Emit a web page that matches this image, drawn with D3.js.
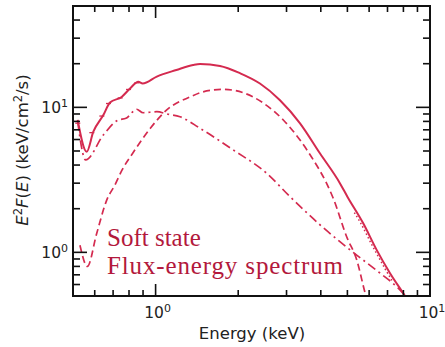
<!DOCTYPE html>
<html>
<head>
<meta charset="utf-8">
<script src="https://cdn.jsdelivr.net/npm/d3@7"></script>
<style>
  body { margin: 0; background: #fff; }
  svg { display: block; }
</style>
</head>
<body>
<div id="chart"></div>
<script>
// total model (solid)
const totalE = [0.52, 0.561, 0.593, 0.645, 0.682, 0.752, 0.807, 0.865, 0.897, 1.01, 1.19, 1.37, 1.452, 1.717, 2.03, 2.40, 2.84, 3.36, 3.97, 4.70, 5.0, 5.71, 6.39, 7.15, 7.99, 8.6];
const totalF = [8.2, 4.94, 6.79, 8.85, 10.8, 11.8, 13.5, 15.0, 14.6, 16.3, 18.1, 19.6, 19.9, 19.3, 17.2, 14.6, 11.2, 7.76, 4.82, 2.99, 2.42, 1.585, 1.04, 0.718, 0.522, 0.42];

// disk component (dashed)
const diskE = [0.53, 0.564, 0.61, 0.664, 0.711, 0.755, 0.832, 0.957, 1.098, 1.335, 1.49, 1.765, 2.09, 2.47, 2.92, 3.36, 3.76, 4.20, 4.44, 4.97, 5.41, 5.80, 6.0];
const diskF = [1.12, 0.80, 1.35, 2.3, 2.92, 3.7, 4.94, 7.18, 9.6, 11.8, 12.8, 13.3, 12.6, 10.7, 8.18, 5.95, 4.33, 2.99, 2.36, 1.28, 0.885, 0.525, 0.42];

// power-law component (dash-dot)
const plE = [0.52, 0.556, 0.645, 0.731, 0.78, 0.853, 0.90, 1.01, 1.10, 1.227, 1.452, 1.92, 2.54, 3.09, 3.97, 5.25, 6.57, 7.56, 8.3];
const plF = [8.0, 4.34, 6.45, 8.18, 8.4, 9.7, 9.18, 9.33, 9.0, 8.62, 7.17, 5.08, 3.51, 2.42, 1.55, 1.0, 0.72, 0.58, 0.48];

// data (dotted at high energy, small caps at low energy)
const dotE = [5.3, 5.56, 6.15, 6.86, 7.3];
const dotF = [1.88, 1.62, 1.12, 0.77, 0.63];
const capE = [0.527, 0.593, 0.645, 0.682, 0.752, 0.807, 0.865];
const capF = [7.9, 6.8, 8.85, 10.8, 11.8, 13.5, 15.0];

const xTicks = [1, 10];
const yTicks = [1, 10];

const W = 445, H = 347;
const mL = 73, mR = 430, mT = 6, mB = 296;
const lineCol = "#d42a4f";
const textCol = "#b3193c";

const svg = d3.select("#chart").append("svg").attr("width", W).attr("height", H);

const x = d3.scaleLog().domain([0.5, 10]).range([mL, mR]);
const y = d3.scaleLog().domain([0.5, 50]).range([mB, mT]);

svg.append("clipPath").attr("id", "clip").append("rect")
  .attr("x", mL).attr("y", mT).attr("width", mR - mL).attr("height", mB - mT);

const line = d3.line().x(d => x(d[0])).y(d => y(d[1])).curve(d3.curveMonotoneX);
const zip = (a, b) => a.map((v, i) => [v, b[i]]);

const g = svg.append("g").attr("clip-path", "url(#clip)");

g.append("path").attr("d", line(zip(totalE, totalF)))
  .attr("fill", "none").attr("stroke", lineCol).attr("stroke-width", 2);
g.append("path").attr("d", line(zip(diskE, diskF)))
  .attr("fill", "none").attr("stroke", lineCol).attr("stroke-width", 1.7).attr("stroke-dasharray", "7,4");
g.append("path").attr("d", line(zip(plE, plF)))
  .attr("fill", "none").attr("stroke", lineCol).attr("stroke-width", 1.7).attr("stroke-dasharray", "9,4,2,4");
g.append("path").attr("d", line(zip(dotE, dotF)))
  .attr("fill", "none").attr("stroke", lineCol).attr("stroke-width", 1.5).attr("stroke-dasharray", "1.5,2.5");
g.append("g").selectAll("line").data(zip(capE, capF)).enter().append("line")
  .attr("x1", d => x(d[0]) - 4).attr("x2", d => x(d[0]) + 1)
  .attr("y1", d => y(d[1]) + 1).attr("y2", d => y(d[1]) + 1)
  .attr("stroke", lineCol).attr("stroke-width", 1.3);

// ticks, inward on all four sides
const xMinor = [], yMinor = [];
for (let d of [0.1, 1]) for (let k = 2; k <= 9; k++) {
  const v = d * k;
  if (v > 0.5 && v < 10) xMinor.push(v);
}
for (let d of [0.1, 1, 10]) for (let k = 2; k <= 9; k++) {
  const v = d * k;
  if (v > 0.5 && v < 50) yMinor.push(v);
}

const axes = svg.append("g").attr("stroke", "#111");
const tickSet = (vals, len) => {
  vals.forEach(v => {
    const px = x(v);
    axes.append("line").attr("x1", px).attr("x2", px).attr("y1", mB).attr("y2", mB - len).attr("stroke-width", 1.6);
    axes.append("line").attr("x1", px).attr("x2", px).attr("y1", mT).attr("y2", mT + len).attr("stroke-width", 1.6);
  });
};
const tickSetY = (vals, len) => {
  vals.forEach(v => {
    const py = y(v);
    axes.append("line").attr("y1", py).attr("y2", py).attr("x1", mL).attr("x2", mL + len).attr("stroke-width", 1.6);
    axes.append("line").attr("y1", py).attr("y2", py).attr("x1", mR).attr("x2", mR - len).attr("stroke-width", 1.6);
  });
};
tickSet(xTicks, 12);
tickSet(xMinor, 6);
tickSetY(yTicks, 14);
tickSetY(yMinor, 7);

svg.append("rect").attr("x", mL).attr("y", mT).attr("width", mR - mL).attr("height", mB - mT)
  .attr("fill", "none").attr("stroke", "#111").attr("stroke-width", 2);

// tick labels
const font = "DejaVu Sans, sans-serif";
xTicks.forEach(v => {
  const t = svg.append("text").attr("x", x(v) + 2).attr("y", 318).attr("text-anchor", "middle")
    .attr("font-family", font).attr("font-size", 15.5).attr("fill", "#222");
  t.append("tspan").text("10");
  t.append("tspan").attr("dy", -6).attr("font-size", 11).text(Math.round(Math.log10(v)));
});
yTicks.forEach(v => {
  const t = svg.append("text").attr("x", 68).attr("y", y(v) + 6).attr("text-anchor", "end")
    .attr("font-family", font).attr("font-size", 15.5).attr("fill", "#222");
  t.append("tspan").text("10");
  t.append("tspan").attr("dy", -6).attr("font-size", 11).text(Math.round(Math.log10(v)));
});

// axis titles
svg.append("text").attr("x", 252).attr("y", 339).attr("text-anchor", "middle")
  .attr("font-family", font).attr("font-size", 16.5).attr("fill", "#222").text("Energy (keV)");

const yl = svg.append("text").attr("transform", "translate(28,150) rotate(-90)")
  .attr("text-anchor", "middle").attr("font-family", font).attr("font-size", 16.5).attr("fill", "#222");
yl.append("tspan").attr("font-style", "italic").text("E");
yl.append("tspan").attr("dy", -6).attr("font-size", 11.5).text("2");
yl.append("tspan").attr("dy", 6).attr("font-style", "italic").text("F");
yl.append("tspan").text("(");
yl.append("tspan").attr("font-style", "italic").text("E");
yl.append("tspan").text(") (keV/cm");
yl.append("tspan").attr("dy", -6).attr("font-size", 11.5).text("2");
yl.append("tspan").attr("dy", 6).text("/s)");

// annotation
const serif = "Liberation Serif, Times New Roman, serif";
svg.append("text").attr("x", 107).attr("y", 246).attr("font-family", serif).attr("font-size", 25)
  .attr("fill", textCol).text("Soft state");
svg.append("text").attr("x", 107).attr("y", 274).attr("font-family", serif).attr("font-size", 25)
  .attr("textLength", 236).attr("lengthAdjust", "spacing")
  .attr("fill", textCol).text("Flux-energy spectrum");
</script>
</body>
</html>
